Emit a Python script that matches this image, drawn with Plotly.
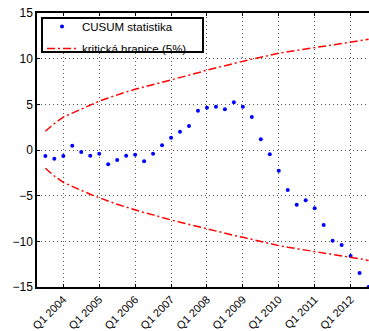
import plotly.graph_objects as go

quarters = ["Q3 2003", "Q4 2003"] + [f"Q{q} {y}" for y in range(2004, 2013) for q in range(1, 5)][:35]

cusum = [-0.66, -0.95, -0.66, 0.47, -0.22, -0.62, -0.40, -1.57, -1.09, -0.62,
         -0.51, -1.24, -0.40, 0.51, 1.35, 2.00, 2.63, 4.30, 4.63, 4.74,
         4.45, 5.22, 4.74, 3.61, 1.17, -0.47, -2.26, -4.38, -5.99, -5.51,
         -6.39, -8.21, -9.93, -10.40, -11.61, -13.47, -15.0]

upper = [2.05, 2.90, 3.60, 4.05, 4.50, 4.95, 5.35, 5.70, 6.05, 6.35,
         6.65, 6.90, 7.15, 7.40, 7.70, 7.95, 8.20, 8.45, 8.75, 9.00,
         9.25, 9.50, 9.75, 9.95, 10.15, 10.40, 10.60, 10.75, 10.90, 11.05,
         11.25, 11.40, 11.55, 11.70, 11.85, 12.00, 12.12]

lower = [-2.00, -2.85, -3.55, -4.00, -4.45, -4.85, -5.22, -5.60, -5.95, -6.25,
         -6.57, -6.85, -7.10, -7.40, -7.66, -7.90, -8.15, -8.40, -8.65, -8.90,
         -9.10, -9.35, -9.56, -9.80, -10.00, -10.25, -10.47, -10.65, -10.80, -10.97,
         -11.13, -11.28, -11.42, -11.55, -11.68, -11.90, -12.10]

tick_labels = [f"Q1 {y}" for y in range(2004, 2013)]
y_ticks = [-15, -10, -5, 0, 5, 10, 15]

FONT = "Liberation Sans, Arial, sans-serif"
RED_DASH = "8px,3px,2px,3px"
GRID_DASH = "1px,3px"

fig = go.Figure()
fig.add_trace(go.Scatter(
    x=quarters, y=cusum, mode="markers", name="CUSUM statistika",
    legendgroup="a",
    marker=dict(color="#0000ff", size=4, symbol="circle"), cliponaxis=False))
fig.add_trace(go.Scatter(
    x=quarters, y=upper, mode="lines", name="kritická hranice (5%)",
    legendgroup="b",
    line=dict(color="#ff0000", width=1.5, dash=RED_DASH)))
fig.add_trace(go.Scatter(
    x=quarters, y=lower, mode="lines", showlegend=False, legendgroup="b",
    line=dict(color="#ff0000", width=1.5, dash=RED_DASH)))

# legend box (opaque, covers the grid)
fig.add_shape(type="rect", xref="paper", yref="paper",
              x0=0.0151, x1=0.5, y0=0.8577, y1=0.9818,
              fillcolor="white", line=dict(color="black", width=2), layer="above")

fig.update_layout(
    template="none",
    width=369, height=331,
    margin=dict(l=37, r=0, t=13, b=44, pad=0),
    paper_bgcolor="white", plot_bgcolor="white",
    font=dict(family=FONT, size=12, color="black"),
    showlegend=True,
    legend=dict(x=0.0151, y=1.004, xanchor="left", yanchor="top",
                bgcolor="rgba(0,0,0,0)", borderwidth=0,
                font=dict(family=FONT, size=11.5, color="black"),
                itemwidth=30, tracegroupgap=3),
)
fig.update_xaxes(
    type="category", categoryorder="array", categoryarray=quarters,
    range=[-0.93, 36.05], automargin=False,
    tickmode="array", tickvals=tick_labels, ticktext=tick_labels,
    tickangle=-45, ticks="inside", ticklen=3, tickcolor="black",
    ticklabelstandoff=0,
    showline=True, linecolor="black", linewidth=1.5, mirror="ticks",
    showgrid=True, gridcolor="#555555", gridwidth=1, griddash=GRID_DASH,
    zeroline=False, tickfont=dict(family=FONT, size=11, color="black"))
fig.update_yaxes(
    range=[-15, 15], tickmode="array", tickvals=y_ticks, automargin=False,
    ticks="inside", ticklen=3, tickcolor="black",
    showline=True, linecolor="black", linewidth=1.5, mirror=False,
    showgrid=True, gridcolor="#555555", gridwidth=1, griddash=GRID_DASH,
    zeroline=False, tickfont=dict(family=FONT, size=12, color="black"))

fig.write_html("out.html")
